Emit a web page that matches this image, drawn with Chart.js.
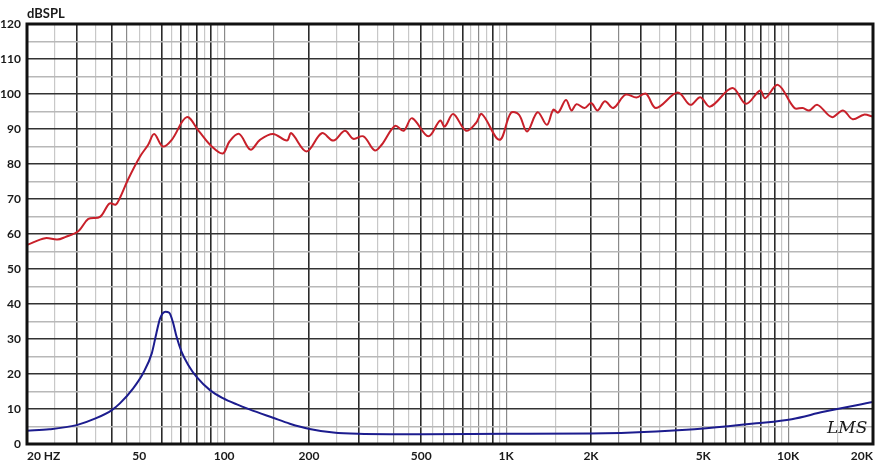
<!DOCTYPE html>
<html>
<head>
<meta charset="utf-8">
<script src="https://cdn.jsdelivr.net/npm/chart.js@4/dist/chart.umd.min.js"></script>
<style>
  html, body { margin: 0; padding: 0; background: #fff; }
</style>
</head>
<body>
<canvas id="spl" width="891" height="464"></canvas>
<script>
// SPL response (red)
var splFreq = [20, 23.2, 25.6, 27.3, 30.4, 33, 36.3, 39.2, 41.3, 42.7, 45.6, 50.4, 53.8, 56.5, 60.6, 65.2,
  73.7, 81.5, 90.4, 99, 104.6, 113, 124, 134, 149, 167, 173, 196, 222, 244, 268, 287, 312, 342, 362,
  404, 433, 464, 530, 583, 606, 649, 721, 782, 820, 947, 1040, 1110, 1187, 1293, 1395, 1470, 1530,
  1630, 1706, 1776, 1898, 2003, 2110, 2240, 2400, 2650, 2900, 3130, 3400, 4060, 4500, 4880, 5290,
  6340, 7090, 7960, 8290, 9200, 10530, 11270, 11880, 12700, 14290, 15650, 16950, 18570, 20000];
var splDb = [56.9, 58.8, 58.4, 59.1, 60.8, 64.3, 64.9, 68.7, 68.4, 70.3, 75.5, 82.2, 85.5, 88.6, 85, 86.9,
  93.4, 89.3, 85, 83, 86.5, 88.6, 84.1, 86.9, 88.6, 86.7, 88.8, 83.6, 88.8, 86.7, 89.5, 87.2, 87.9, 83.9, 85.5,
  90.9, 89.5, 93.1, 87.9, 92.4, 90.7, 94.3, 89.5, 91.7, 94.3, 86.9, 94.6, 94.1, 89.3, 94.8, 91.2, 95.5, 94.7,
  98.3, 95.3, 97.1, 96, 97.4, 95.3, 97.9, 96, 99.8, 99, 100.1, 96, 100.4, 96.9, 99.1, 96.4,
  101.7, 97.2, 101, 98.8, 102.6, 96, 96, 95.3, 96.9, 93.4, 95.3, 92.8, 94.1, 93.5];

// Impedance (blue)
var impFreq = [20, 24, 30, 35, 40, 42.7, 47.6, 51.6, 55.4, 57.5, 59.3, 61.9, 63.9, 66, 67.8, 70.6, 74.6,
  80, 89.1, 99, 111, 123, 149, 171, 201, 244, 299, 387, 506, 1000, 1990, 3400, 5130, 7720, 10300, 13350, 20000];
var impVal = [3.8, 4.2, 5.4, 7.3, 9.7, 11.6, 15.9, 20.2, 25.9, 31.6, 35.9, 37.8, 37.5, 34.5, 30.7, 26.4, 22.6,
  19.1, 15.4, 13.1, 11.3, 9.9, 7.5, 5.8, 4.3, 3.3, 2.9, 2.8, 2.8, 2.9, 3, 3.6, 4.5, 5.9, 7.1, 9.2, 12];

// x axis: grid frequencies, labelled ones, and shading
var gridFreqs = [20, 25, 30, 35, 40, 45, 50, 55, 60, 65, 70, 75, 80, 85, 90, 95, 100, 150,
  200, 250, 300, 350, 400, 450, 500, 550, 600, 650, 700, 750, 800, 850, 900, 950, 1000, 1500,
  2000, 2500, 3000, 3500, 4000, 4500, 5000, 5500, 6000, 6500, 7000, 7500, 8000, 8500, 9000, 9500,
  10000, 15000, 20000];
var labelFreqs = [20, 50, 100, 200, 500, 1000, 2000, 5000, 10000, 20000];
var xLabels = ['20 HZ', '50', '100', '200', '500', '1K', '2K', '5K', '10K', '20K'];
var darkFreqs = [30, 40, 60, 70, 80, 90, 200, 300, 500, 700, 900, 2000, 3000, 4000, 5000, 6000, 7000, 8000, 9000];
var midFreqs = [45, 100, 150, 400, 600, 800, 1000, 2500, 10000];

function pts(xs, ys) {
  return xs.map(function (x, i) { return { x: x, y: ys[i] }; });
}

function vColor(v) {
  if (darkFreqs.indexOf(v) >= 0) return '#2a2a2a';
  if (midFreqs.indexOf(v) >= 0) return '#8a8a8a';
  return '#c8c8c8';
}

var framePlugin = {
  id: 'frame',
  afterDraw: function (chart) {
    var c = chart.ctx, a = chart.chartArea;
    c.save();
    c.strokeStyle = '#111';
    c.lineWidth = 3;
    c.strokeRect(a.left, a.top, a.right - a.left, a.bottom - a.top);
    c.fillStyle = '#1a1a1a';
    c.textBaseline = 'bottom';
    c.font = 'bold 13px Lato';
    c.fillText('dBSPL', a.left, a.top - 4);
    c.font = 'italic 17px "DejaVu Serif"';
    c.fillText('LMS', a.right - 46, a.bottom - 7);
    c.restore();
  }
};

var ctx = document.getElementById('spl').getContext('2d');
var chart = new Chart(ctx, {
  type: 'line',
  data: {
    datasets: [{
      label: 'SPL',
      data: pts(splFreq, splDb),
      borderColor: '#c8202a',
      borderWidth: 2,
      pointRadius: 0,
      tension: 0.35
    }, {
      label: 'Impedance',
      data: pts(impFreq, impVal),
      borderColor: '#1c1c8e',
      borderWidth: 2,
      pointRadius: 0,
      cubicInterpolationMode: 'monotone'
    }]
  },
  options: {
    responsive: false,
    animation: false,
    layout: { padding: { top: 24, right: 18, left: 0, bottom: 0 } },
    plugins: {
      legend: { display: false },
      tooltip: { enabled: false }
    },
    scales: {
      x: {
        type: 'logarithmic',
        min: 20,
        max: 20000,
        afterBuildTicks: function (axis) {
          axis.ticks = gridFreqs.map(function (v) { return { value: v }; });
        },
        afterFit: function (s) { s.height = 20; },
        border: { display: false },
        grid: {
          drawTicks: false,
          color: function (c) { return vColor(c.tick.value); },
          lineWidth: function (c) { return darkFreqs.indexOf(c.tick.value) >= 0 ? 1.6 : 1.2; }
        },
        ticks: {
          autoSkip: false,
          maxRotation: 0,
          align: 'inner',
          padding: 5,
          color: '#1a1a1a',
          font: { family: 'Lato', weight: 'bold', size: 12 },
          callback: function (v) {
            var i = labelFreqs.indexOf(v);
            return i >= 0 ? xLabels[i] : '';
          }
        }
      },
      y: {
        min: 0,
        max: 120,
        afterFit: function (s) { s.width = 27; },
        border: { display: false },
        grid: {
          drawTicks: false,
          color: function (c) { return c.tick.value % 10 === 0 ? '#333' : '#b8b8b8'; },
          lineWidth: 1.5
        },
        ticks: {
          stepSize: 5,
          padding: 6,
          color: '#1a1a1a',
          font: { family: 'Lato', weight: 'bold', size: 12 },
          callback: function (v) { return v % 10 === 0 ? v : ''; }
        }
      }
    }
  },
  plugins: [framePlugin]
});
</script>
</body>
</html>
